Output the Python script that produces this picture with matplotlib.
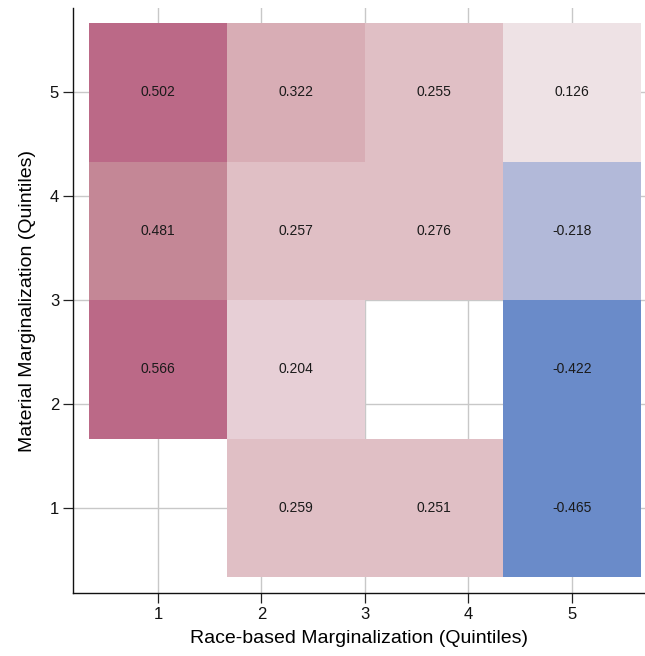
import matplotlib
matplotlib.use("Agg")
import matplotlib.pyplot as plt
import matplotlib.colors as mcolors
import numpy as np

plt.rcParams["font.family"] = ["Liberation Sans", "DejaVu Sans"]

# bin centres on each quintile axis (4 bins spread over 1..5)
race_bins = [1.0, 2.333, 3.667, 5.0]
material_bins = [1.0, 2.333, 3.667, 5.0]

# correlation per cell, rows = material bin (bottom -> top), cols = race bin
row_1 = [np.nan, 0.259, 0.251, -0.465]
row_2 = [0.566, 0.204, np.nan, -0.422]
row_3 = [0.481, 0.257, 0.276, -0.218]
row_4 = [0.502, 0.322, 0.255, 0.126]

tick_vals = [1, 2, 3, 4, 5]

# binned diverging palette (blue = negative, pink = positive)
bounds = [-0.6, -0.3, 0.0, 0.2, 0.25, 0.3, 0.45, 0.5, 0.6]
palette = ["#6a8bc9", "#b2b9d9", "#eee2e5", "#e7cfd6", "#e0bfc5",
           "#d8adb5", "#c48796", "#bb6987"]


def edges(centres):
    c = np.asarray(centres)
    step = c[1] - c[0]
    return np.concatenate([c - step / 2, [c[-1] + step / 2]])


def main():
    grid = np.ma.masked_invalid(np.array([row_1, row_2, row_3, row_4]))
    cmap = mcolors.ListedColormap(palette)
    norm = mcolors.BoundaryNorm(bounds, cmap.N)

    fig = plt.figure(figsize=(6.45, 6.56), dpi=100)
    ax = fig.add_axes([0.1132, 0.096, 0.8868, 0.8918])
    ax.set_axisbelow(True)
    ax.grid(True, color="#c8c8c8", linewidth=1.0)

    ax.pcolormesh(edges(race_bins), edges(material_bins), grid,
                  cmap=cmap, norm=norm, linewidth=0)

    for i, y in enumerate(material_bins):
        for j, x in enumerate(race_bins):
            v = grid[i, j]
            if np.ma.is_masked(v):
                continue
            ax.text(x, y, f"{v:.3f}", ha="center", va="center",
                    fontsize=10, color="#1a1a1a")

    ax.set_xlim(0.18, 5.705)
    ax.set_ylim(0.183, 5.81)
    ax.set_xticks(tick_vals)
    ax.set_yticks(tick_vals)
    ax.tick_params(labelsize=12, length=7, width=0.9, colors="#222222",
                   labelcolor="#111111", pad=3)
    for side in ["top", "right"]:
        ax.spines[side].set_visible(False)
    for side in ["left", "bottom"]:
        ax.spines[side].set_linewidth(1.0)
        ax.spines[side].set_color("#111111")

    ax.set_xlabel("Race-based Marginalization (Quintiles)", fontsize=14,
                  labelpad=6)
    ax.set_ylabel("Material Marginalization (Quintiles)", fontsize=14,
                  labelpad=10)

    fig.savefig("out.png", dpi=100)
    plt.close(fig)


if __name__ == "__main__":
    main()
